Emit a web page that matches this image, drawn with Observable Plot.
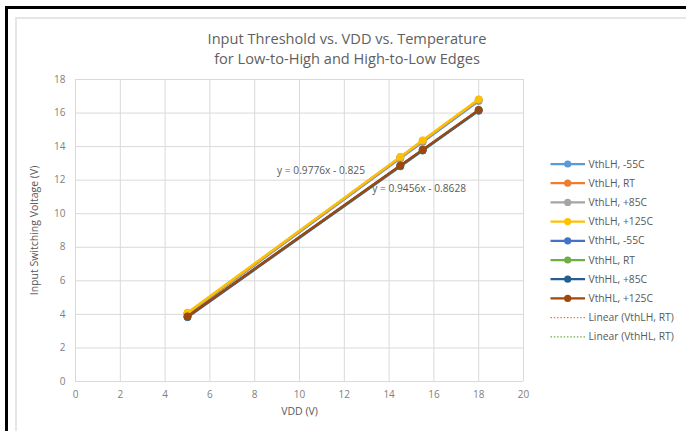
<!DOCTYPE html>
<html>
<head>
<meta charset="utf-8">
<script src="https://cdn.jsdelivr.net/npm/d3@7"></script>
<script src="https://cdn.jsdelivr.net/npm/@observablehq/plot@0.6"></script>
<style>
  html, body { margin: 0; padding: 0; background: #fff; }
  #wrap { position: relative; width: 686px; height: 431px; overflow: hidden; background: #fff; font-family: "Open Sans", "Liberation Sans", sans-serif; }
  #outer { position: absolute; left: 5px; top: 6px; width: 700px; height: 440px; border-left: 3px solid #000; border-top: 3px solid #000; }
  #inner { position: absolute; left: 15px; top: 17px; width: 700px; height: 440px; border-left: 2px solid #e6e6e6; border-top: 2px solid #e6e6e6; }
  #title { position: absolute; left: 0; width: 694px; top: 28px; text-align: center; color: #5f5f5f; font-size: 14.6px; line-height: 20px; }
  #chart { position: absolute; left: 0; top: 0; }
  #legend { position: absolute; left: 545px; top: 150px; }
</style>
</head>
<body>
<div id="wrap">
  <div id="outer"></div>
  <div id="inner"></div>
  <div id="chart"></div>
  <div id="title"></div>
  <div id="legend"></div>
</div>
<script>
const titleLines = ["Input Threshold vs. VDD vs. Temperature", "for Low-to-High and High-to-Low Edges"];
const xLabel = "VDD (V)";
const yLabel = "Input Switching Voltage (V)";
const xTicks = [0, 2, 4, 6, 8, 10, 12, 14, 16, 18, 20];
const yTicks = [0, 2, 4, 6, 8, 10, 12, 14, 16, 18];

const vdd = [5, 14.5, 15.5, 18];
const seriesNames = ["VthLH, -55C", "VthLH, RT", "VthLH, +85C", "VthLH, +125C",
                     "VthHL, -55C", "VthHL, RT", "VthHL, +85C", "VthHL, +125C"];
const seriesColors = ["#5B9BD5", "#ED7D31", "#A5A5A5", "#FFC000",
                      "#4472C4", "#70AD47", "#255E91", "#9E480E"];
const vthLH_m55 = [4.02, 13.30, 14.28, 16.72];
const vthLH_RT  = [4.06, 13.35, 14.33, 16.77];
const vthLH_85  = [4.08, 13.37, 14.35, 16.80];
const vthLH_125 = [4.10, 13.39, 14.38, 16.82];
const vthHL_m55 = [3.83, 12.82, 13.76, 16.13];
const vthHL_RT  = [3.87, 12.85, 13.79, 16.16];
const vthHL_85  = [3.86, 12.86, 13.80, 16.17];
const vthHL_125 = [3.88, 12.88, 13.82, 16.19];
const seriesValues = [vthLH_m55, vthLH_RT, vthLH_85, vthLH_125, vthHL_m55, vthHL_RT, vthHL_85, vthHL_125];

const trendNames = ["Linear (VthLH, RT)", "Linear (VthHL, RT)"];
const trendColors = ["#ED7D31", "#70AD47"];
const trendSources = [vthLH_RT, vthHL_RT];
const eqTexts = ["y = 0.9776x - 0.825", "y = 0.9456x - 0.8628"];
const eqX = [9.0, 13.25];
const eqY = [12.55, 11.5];

// build tables
const rows = [];
seriesNames.forEach((name, i) => vdd.forEach((x, j) => rows.push({series: name, idx: i, x, y: seriesValues[i][j]})));
const trendRows = [];
trendNames.forEach((name, i) => vdd.forEach((x, j) => trendRows.push({series: name, idx: i, x, y: trendSources[i][j]})));
const eqRows = eqTexts.map((t, i) => ({text: t, x: eqX[i], y: eqY[i]}));

const tickColor = "#808080";
const textColor = "#595959";

const marks = [
  Plot.gridX(xTicks, {stroke: "#d9d9d9", strokeOpacity: 1, strokeWidth: 1}),
  Plot.gridY(yTicks, {stroke: "#d9d9d9", strokeOpacity: 1, strokeWidth: 1}),
  Plot.axisX(xTicks, {tickSize: 0, tickPadding: 9, fontSize: 10, color: tickColor, label: xLabel, labelAnchor: "center", labelArrow: "none", labelOffset: 33}),
  Plot.axisY(yTicks, {tickSize: 0, tickPadding: 10, fontSize: 10, color: tickColor, label: yLabel, labelAnchor: "center", labelArrow: "none", labelOffset: 45}),
];
trendNames.forEach((name, i) => {
  marks.push(Plot.linearRegressionY(trendRows.filter(d => d.idx === i), {x: "x", y: "y", stroke: trendColors[i], strokeWidth: 1.5, strokeDasharray: "1.5,2", ci: 0}));
});
seriesNames.forEach((name, i) => {
  const d = rows.filter(r => r.idx === i);
  marks.push(Plot.line(d, {x: "x", y: "y", stroke: seriesColors[i], strokeWidth: 2.4}));
  marks.push(Plot.dot(d, {x: "x", y: "y", fill: seriesColors[i], r: 3.6, stroke: seriesColors[i], strokeWidth: 0.6}));
});
marks.push(Plot.text(eqRows, {x: "x", y: "y", text: "text", textAnchor: "start", fill: textColor, fontSize: 10.2}));

const chart = Plot.plot({
  width: 686,
  height: 431,
  marginLeft: 75,
  marginRight: 163,
  marginTop: 79,
  marginBottom: 50,
  x: {domain: [0, 20]},
  y: {domain: [0, 18]},
  style: {background: "transparent", fontFamily: "'Open Sans', 'Liberation Sans', sans-serif", color: textColor, overflow: "visible"},
  marks
});
d3.select(chart).selectAll("[aria-label$='axis label'] text, [aria-label$='axis label']").attr("fill", textColor).style("font-size", "10.5px");
document.getElementById("chart").appendChild(chart);

document.getElementById("title").innerHTML = titleLines.join("<br>");

// legend
const legItems = seriesNames.map((n, i) => ({name: n, color: seriesColors[i], dotted: false}))
  .concat(trendNames.map((n, i) => ({name: n, color: trendColors[i], dotted: true})));
const step = 19.2;
const lg = d3.select("#legend").append("svg").attr("width", 141).attr("height", 200);
legItems.forEach((it, i) => {
  const cy = 14 + i * step;
  const g = lg.append("g");
  g.append("line").attr("x1", 5.5).attr("x2", 40).attr("y1", cy).attr("y2", cy)
    .attr("stroke", it.color).attr("stroke-width", it.dotted ? 1.3 : 2.25)
    .attr("stroke-dasharray", it.dotted ? "1.5,1.8" : null);
  if (!it.dotted) g.append("circle").attr("cx", 22.7).attr("cy", cy).attr("r", 3.6).attr("fill", it.color);
  g.append("text").attr("x", 43.5).attr("y", cy).attr("dy", "0.35em").attr("fill", textColor)
    .attr("font-size", "10.3px").attr("font-family", "'Open Sans', 'Liberation Sans', sans-serif").text(it.name);
});
</script>
</body>
</html>
